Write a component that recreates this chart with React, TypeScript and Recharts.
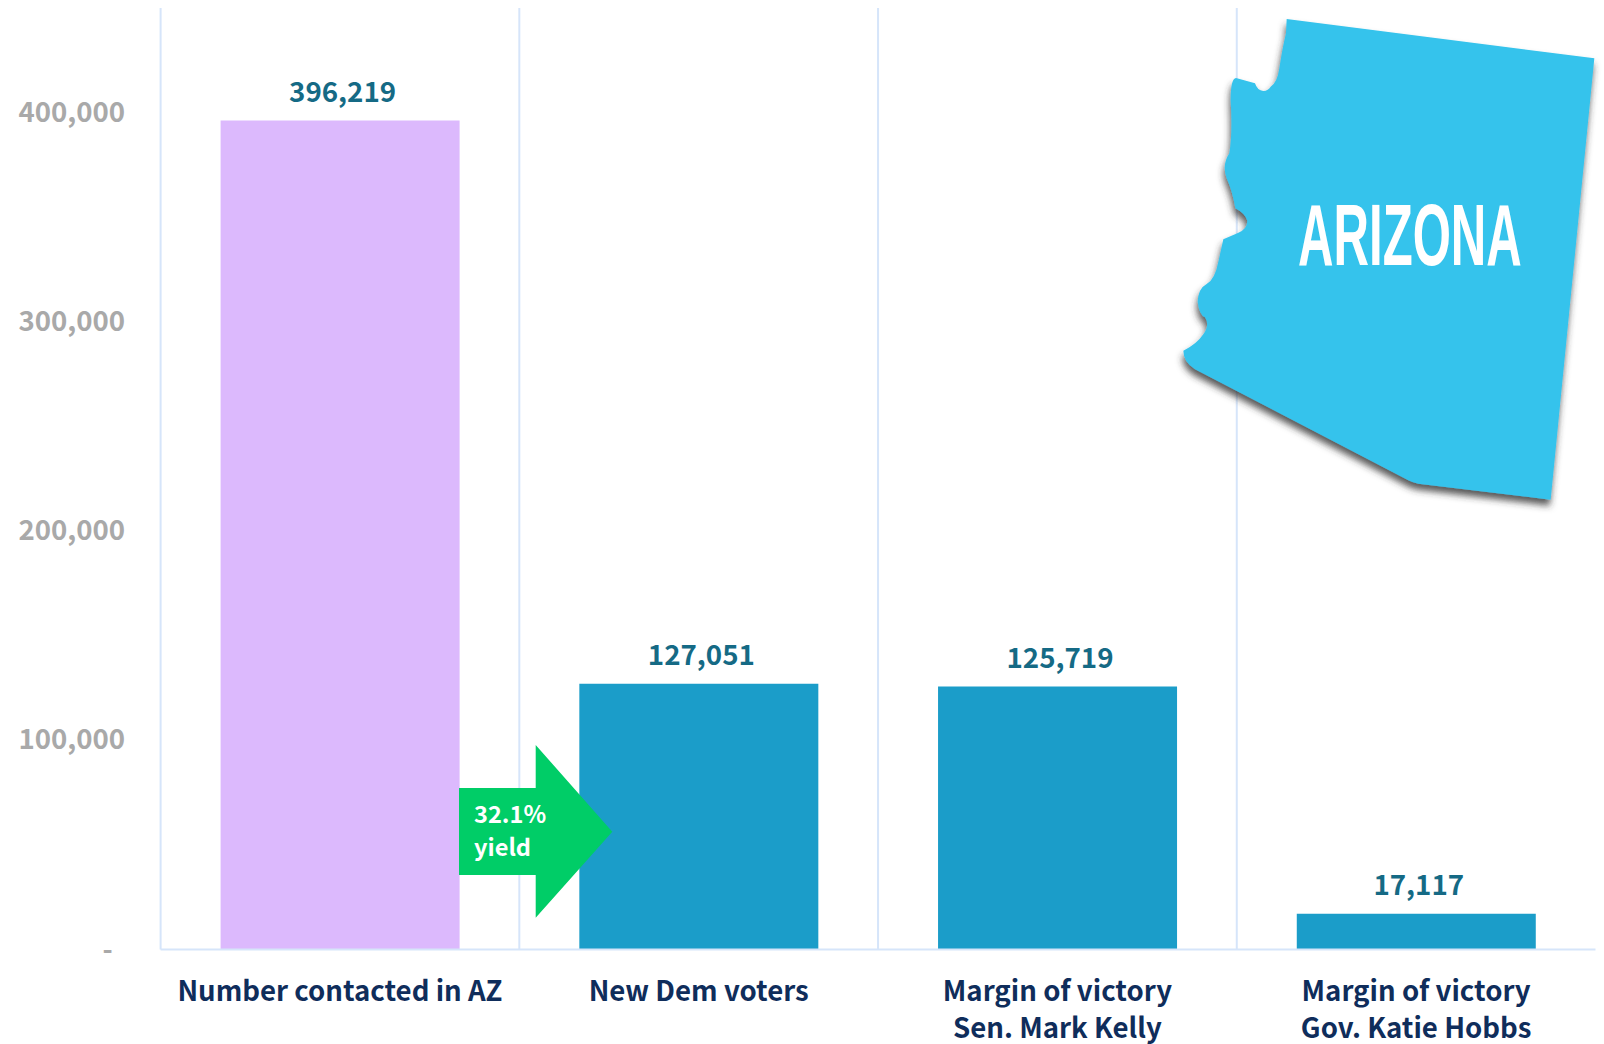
import React from 'react';
import { BarChart, Bar, Cell, XAxis, YAxis, CartesianGrid, LabelList } from 'recharts';

const categories = ['Number contacted in AZ', 'New Dem voters', 'Margin of victory|Sen. Mark Kelly', 'Margin of victory|Gov. Katie Hobbs'];
const values = [396219, 127051, 125719, 17117];
const barColors = ['#dcb9fd', '#1b9dc9', '#1b9dc9', '#1b9dc9'];
const yTicks = [0, 100000, 200000, 300000, 400000];

const data = categories.map((name, i) => ({ name, value: values[i] }));

const FONT = '"Noto Sans CJK SC", "Noto Sans", sans-serif';
const GRID = '#d6e5fa';

function CategoryTick({ x, y, payload }: any) {
  const lines = String(payload.value).split('|');
  return (
    <text x={x} y={y} textAnchor="middle" fontFamily={FONT} fontWeight={700} fontSize={27.6} fill="#0f2d5b">
      {lines.map((line, i) => (
        <tspan key={i} x={x} y={1000.5 + i * 37.5}>{line}</tspan>
      ))}
    </text>
  );
}

function ValueTick({ x, y, payload }: any) {
  const zero = payload.value === 0;
  return (
    <text x={zero ? x - 12.5 : x} y={y} dy={9} textAnchor="end" fontFamily={FONT} fontWeight={700} fontSize={27.6} fill="#a9a9a9">
      {zero ? '-' : Number(payload.value).toLocaleString('en-US')}
    </text>
  );
}

// state outline, traced in 3x coordinates
const AZ_PATH =
  'M380 57 L1303 175 L1172 1499 L775 1451 Q760 1449 745 1441 L235 1175 L105 1108 Q70 1085 70 1052 ' +
  'Q110 1033 130 1003 Q150 975 135 952 Q118 945 113 905 Q115 865 140 852 Q165 838 175 785 L190 718 ' +
  'L232 700 Q262 688 262 662 Q255 640 226 625 Q218 575 200 535 Q185 495 208 460 Q218 400 212 300 Q212 235 228 234 ' +
  'L285 250 Q292 272 310 273 Q325 272 332 260 Q352 248 358 205 Q368 140 378 100 Z';

export default function App() {
  return (
    <div style={{ position: 'absolute', left: 0, top: 0, width: 1604, height: 1044, background: '#fff' }}>
      <BarChart
        width={1604}
        height={1044}
        data={data}
        margin={{ top: 8, right: 8.5, bottom: 0, left: 0 }}
      >
        <CartesianGrid
          horizontal={false}
          stroke={GRID}
          strokeWidth={2}
          verticalCoordinatesGenerator={({ offset }: any) =>
            categories.map((_, i) => offset.left + (i * offset.width) / categories.length)
          }
        />
        <XAxis
          dataKey="name"
          height={94.5}
          interval={0}
          tick={<CategoryTick />}
          tickLine={false}
          axisLine={{ stroke: GRID, strokeWidth: 2 }}
        />
        <YAxis
          width={160.6}
          domain={[0, 450000]}
          ticks={yTicks}
          tick={<ValueTick />}
          tickMargin={29.5}
          tickLine={false}
          axisLine={false}
        />
        <Bar dataKey="value" barSize={239} isAnimationActive={false}>
          {data.map((_, i) => (
            <Cell key={i} fill={barColors[i]} />
          ))}
          <LabelList
            dataKey="value"
            position="top"
            offset={18.5}
            dx={2.5}
            formatter={(v: any) => Number(v).toLocaleString('en-US')}
            style={{ fontFamily: FONT, fontWeight: 700, fontSize: 27.7, fill: '#156a85' }}
          />
        </Bar>
      </BarChart>

      {/* yield arrow and state badge sit above the bars */}
      <svg width={1604} height={1044} style={{ position: 'absolute', left: 0, top: 0, pointerEvents: 'none' }}>
        <defs>
          <filter id="azShadow" x="-10%" y="-10%" width="120%" height="120%">
            <feDropShadow dx={-1} dy={6} stdDeviation={3.5} floodColor="#333" floodOpacity={0.8} />
          </filter>
        </defs>
        <polygon points="459,788 535.7,788 535.7,745 612.3,831.7 535.7,917.7 535.7,875 459,875" fill="#00cd67" />
        <text fontFamily={FONT} fontWeight={700} fontSize={23.6} fill="#fff">
          <tspan x={474} y={823}>32.1%</tspan>
          <tspan x={474} y={856}>yield</tspan>
        </text>
        <g filter="url(#azShadow)">
          <path d={AZ_PATH} transform="translate(1160 0) scale(0.33333)" fill="#36c3ec" />
        </g>
        <text
          transform="translate(1298 265) scale(0.565 1)"
          fontFamily='"Liberation Sans Narrow", "Liberation Sans", sans-serif'
          fontWeight={700}
          fontSize={87}
          fill="#fff"
        >
          ARIZONA
        </text>
      </svg>
    </div>
  );
}
